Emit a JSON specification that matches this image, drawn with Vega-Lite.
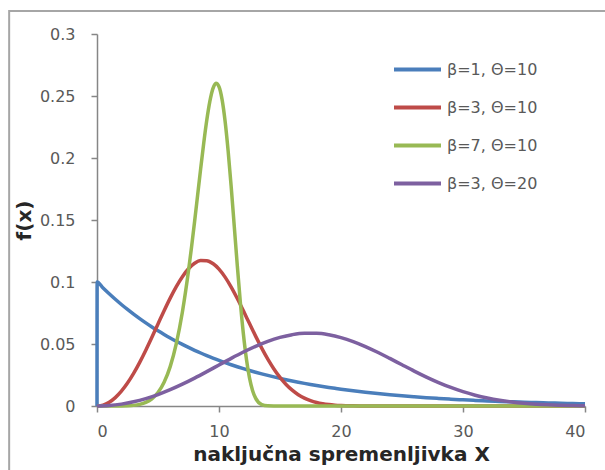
{
  "$schema": "https://vega.github.io/schema/vega-lite/v6.json",
  "width": 488,
  "height": 372,
  "autosize": {"type": "none"},
  "padding": {"left": 97, "top": 34, "right": 20, "bottom": 64},
  "background": "white",
  "config": {
    "view": {"stroke": null},
    "axis": {
      "grid": false,
      "domainColor": "#868686",
      "domainWidth": 1.5,
      "tickColor": "#868686",
      "tickWidth": 1.5,
      "tickSize": 6,
      "labelColor": "#595959",
      "labelFont": "DejaVu Sans",
      "labelFontSize": 16,
      "titleFont": "DejaVu Sans",
      "titleFontSize": 20,
      "titleFontWeight": "bold",
      "titleColor": "#262626"
    },
    "legend": {
      "labelFont": "DejaVu Sans",
      "labelFontSize": 16,
      "labelColor": "#595959"
    }
  },
  "layer": [
    {
      "data": {"values": [{}]},
      "mark": {"type": "rect", "filled": false, "stroke": "#a6a6a6", "strokeWidth": 2, "clip": false},
      "encoding": {
        "x": {"datum": -7.2, "type": "quantitative", "scale": {"domain": [0, 40], "nice": false, "zero": false}},
        "x2": {"datum": 50},
        "y": {"datum": 0.3185, "type": "quantitative", "scale": {"domain": [0, 0.3], "nice": false, "zero": false}},
        "y2": {"datum": -0.2}
      }
    },
    {
      "data": {
        "values": [
          {"x": 0, "a": 0, "b": 0, "c": 0, "d": 0},
          {"x": 0.01, "a": 0.1},
          {"x": 0.5, "a": 0.09512, "b": 0.00075, "c": 0},
          {"x": 1, "a": 0.09048, "b": 0.002997, "c": 0.0000007, "d": 0.000375},
          {"x": 1.5, "a": 0.08607, "b": 0.006727, "c": 0.000008},
          {"x": 2, "a": 0.08187, "b": 0.011904, "c": 0.0000448, "d": 0.0014985},
          {"x": 2.5, "a": 0.07788, "b": 0.018459, "c": 0.000171},
          {"x": 3, "a": 0.07408, "b": 0.026281, "c": 0.00051, "d": 0.003364},
          {"x": 3.5, "a": 0.07047, "b": 0.035208, "c": 0.001286},
          {"x": 4, "a": 0.06703, "b": 0.045024, "c": 0.002863, "d": 0.005952},
          {"x": 4.5, "a": 0.06376, "b": 0.055459, "c": 0.005791},
          {"x": 5, "a": 0.06065, "b": 0.066187, "c": 0.010852, "d": 0.00923},
          {"x": 5.5, "a": 0.05769, "b": 0.076841, "c": 0.019084},
          {"x": 6, "a": 0.05488, "b": 0.087019, "c": 0.031758, "d": 0.013141},
          {"x": 6.5, "a": 0.0522, "b": 0.096313, "c": 0.050268},
          {"x": 7, "a": 0.04966, "b": 0.104317, "c": 0.075844, "d": 0.017604},
          {"x": 7.5, "a": 0.04724, "b": 0.110669, "c": 0.109017},
          {"x": 7.75, "c": 0.128226},
          {"x": 8, "a": 0.04493, "b": 0.115065, "c": 0.148786, "d": 0.022512},
          {"x": 8.25, "c": 0.170159},
          {"x": 8.5, "a": 0.04274, "b": 0.117281, "c": 0.191596},
          {"x": 8.75, "c": 0.212129},
          {"x": 9, "a": 0.04066, "b": 0.117221, "c": 0.230585, "d": 0.02773},
          {"x": 9.25, "c": 0.245647},
          {"x": 9.5, "a": 0.03867, "b": 0.114871, "c": 0.25595},
          {"x": 9.75, "c": 0.260234},
          {"x": 10, "a": 0.03679, "b": 0.110364, "c": 0.257516, "d": 0.033094},
          {"x": 10.25, "c": 0.247288},
          {"x": 10.5, "a": 0.03499, "b": 0.103931, "c": 0.229687},
          {"x": 10.75, "c": 0.205605},
          {"x": 11, "a": 0.03329, "b": 0.095908, "c": 0.176657, "d": 0.038421},
          {"x": 11.25, "c": 0.14505},
          {"x": 11.5, "a": 0.03166, "b": 0.086697, "c": 0.113254},
          {"x": 11.75, "c": 0.08364},
          {"x": 12, "a": 0.03012, "b": 0.07674, "c": 0.058083, "d": 0.04351},
          {"x": 12.25, "c": 0.037682},
          {"x": 12.5, "a": 0.02865, "b": 0.066483, "c": 0.022682},
          {"x": 12.75, "c": 0.012573},
          {"x": 13, "a": 0.02725, "b": 0.056338, "c": 0.006362, "d": 0.048157},
          {"x": 13.5, "a": 0.02592, "b": 0.046694, "c": 0.001195},
          {"x": 14, "a": 0.02466, "b": 0.037825, "c": 0.000139, "d": 0.052159},
          {"x": 14.5, "a": 0.02346, "b": 0.029913, "c": 0.000009},
          {"x": 15, "a": 0.02231, "b": 0.023097, "c": 0, "d": 0.055335},
          {"x": 15.5, "a": 0.02122, "b": 0.0174, "c": 0},
          {"x": 16, "a": 0.02019, "b": 0.012779, "c": 0, "d": 0.057533},
          {"x": 16.5, "a": 0.01921, "b": 0.009145, "c": 0},
          {"x": 17, "a": 0.01827, "b": 0.006374, "c": 0, "d": 0.05864},
          {"x": 17.5, "a": 0.01738, "b": 0.004323, "c": 0},
          {"x": 18, "a": 0.01653, "b": 0.002851, "c": 0, "d": 0.05861},
          {"x": 18.5, "a": 0.01572, "b": 0.001827, "c": 0},
          {"x": 19, "a": 0.01496, "b": 0.001137, "c": 0, "d": 0.057436},
          {"x": 19.5, "a": 0.01423, "b": 0.000687, "c": 0},
          {"x": 20, "a": 0.01353, "b": 0.000403, "c": 0, "d": 0.055182},
          {"x": 21, "a": 0.01225, "b": 0.000126, "c": 0, "d": 0.051966},
          {"x": 22, "a": 0.01108, "b": 0.0000345, "c": 0, "d": 0.047954},
          {"x": 23, "a": 0.01003, "b": 0, "c": 0, "d": 0.043349},
          {"x": 24, "a": 0.00907, "b": 0, "c": 0, "d": 0.03837},
          {"x": 25, "a": 0.00821, "b": 0, "c": 0, "d": 0.033242},
          {"x": 26, "a": 0.00743, "b": 0, "c": 0, "d": 0.028169},
          {"x": 27, "a": 0.00672, "b": 0, "c": 0, "d": 0.023347},
          {"x": 28, "a": 0.00608, "b": 0, "c": 0, "d": 0.018913},
          {"x": 29, "a": 0.0055, "b": 0, "c": 0, "d": 0.014957},
          {"x": 30, "a": 0.00498, "b": 0, "c": 0, "d": 0.011549},
          {"x": 31, "a": 0.0045, "b": 0, "c": 0, "d": 0.0087},
          {"x": 32, "a": 0.00408, "b": 0, "c": 0, "d": 0.00639},
          {"x": 33, "a": 0.00369, "b": 0, "c": 0, "d": 0.004573},
          {"x": 34, "a": 0.00334, "b": 0, "c": 0, "d": 0.003187},
          {"x": 35, "a": 0.00302, "b": 0, "c": 0, "d": 0.002162},
          {"x": 36, "a": 0.00273, "b": 0, "c": 0, "d": 0.001426},
          {"x": 37, "a": 0.00247, "b": 0, "c": 0, "d": 0.000914},
          {"x": 38, "a": 0.00224, "b": 0, "c": 0, "d": 0.000569},
          {"x": 39, "a": 0.00202, "b": 0, "c": 0, "d": 0.000344},
          {"x": 40, "a": 0.00183, "b": 0, "c": 0, "d": 0.000202}
        ]
      },
      "transform": [
        {"fold": ["a", "b", "c", "d"], "as": ["series", "f"]},
        {"filter": "isValid(datum.f)"}
      ],
      "mark": {"type": "line", "strokeWidth": 3.5, "interpolate": "monotone"},
      "encoding": {
        "x": {
          "field": "x",
          "type": "quantitative",
          "scale": {"domain": [0, 40], "nice": false, "zero": false},
          "axis": {"values": [0, 10, 20, 30, 40], "format": "d", "title": "naključna spremenljivka X", "labelPadding": 11, "titlePadding": 5}
        },
        "y": {
          "field": "f",
          "type": "quantitative",
          "scale": {"domain": [0, 0.3], "nice": false, "zero": false},
          "axis": {"values": [0, 0.05, 0.1, 0.15, 0.2, 0.25, 0.3], "format": "~g", "title": "f(x)", "labelPadding": 16, "titlePadding": 5}
        },
        "color": {
          "field": "series",
          "type": "nominal",
          "scale": {"domain": ["a", "b", "c", "d"], "range": ["#4A7EBB", "#BE4B48", "#98B954", "#7D60A0"]},
          "legend": {
            "title": null,
            "orient": "none",
            "legendX": 295,
            "legendY": 10,
            "padding": 0,
            "symbolType": "stroke",
            "symbolSize": 2209,
            "symbolStrokeWidth": 4,
            "labelOffset": 4,
            "rowPadding": 4,
            "labelExpr": "datum.label == 'a' ? 'β=1, Θ=10' : datum.label == 'b' ? 'β=3, Θ=10' : datum.label == 'c' ? 'β=7, Θ=10' : 'β=3, Θ=20'"
          }
        }
      }
    }
  ]
}
